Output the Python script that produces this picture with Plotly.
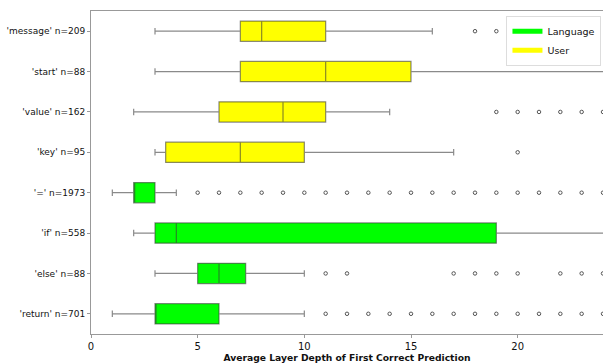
import plotly.graph_objects as go

labels = ["'message' n=209", "'start' n=88", "'value' n=162", "'key' n=95",
          "'=' n=1973", "'if' n=558", "'else' n=88", "'return' n=701"]
groups = ["User", "User", "User", "User", "Language", "Language", "Language", "Language"]
lower = [3, 3, 2, 3, 1, 2, 3, 1]
q1 = [7, 7, 6, 3.5, 2, 3, 5, 3]
median = [8, 11, 9, 7, 2, 4, 6, 3]
q3 = [11, 15, 11, 10, 3, 19, 7.25, 6]
upper = [16, 25, 14, 17, 4, 25, 10, 10]
outliers = [
    [18, 19, 23],
    [],
    [19, 20, 21, 22, 23, 24],
    [20],
    [5, 6, 7, 8, 9, 10, 11, 12, 13, 14, 15, 16, 17, 18, 19, 20, 21, 22, 23, 24],
    [],
    [11, 12, 17, 18, 19, 20, 22, 23, 24],
    [11, 12, 13, 14, 15, 16, 17, 18, 19, 20, 21, 22, 23, 24],
]
colors = {"Language": "#00ff00", "User": "#ffff00"}

fig = go.Figure()
for i, lab in enumerate(labels):
    grp = groups[i]
    fig.add_trace(go.Box(
        y=[lab], q1=[q1[i]], median=[median[i]], q3=[q3[i]],
        lowerfence=[lower[i]], upperfence=[upper[i]],
        orientation="h", name=grp, showlegend=False,
        fillcolor=colors[grp],
        line=dict(color="rgba(60,60,60,0.6)", width=1.2),
        width=0.5, whiskerwidth=0.32, boxpoints=False,
        hoverinfo="skip",
    ))

ox, oy = [], []
for i, lab in enumerate(labels):
    for v in outliers[i]:
        ox.append(v)
        oy.append(lab)
fig.add_trace(go.Scatter(
    x=ox, y=oy, mode="markers", showlegend=False,
    marker=dict(symbol="circle-open", size=3.5, color="#555",
                line=dict(width=1, color="#555")),
    hoverinfo="skip",
))

# legend entries
for grp in ["Language", "User"]:
    fig.add_trace(go.Scatter(
        x=[None], y=[None], mode="lines", name=grp,
        line=dict(color=colors[grp], width=7), showlegend=True,
    ))

fig.update_layout(
    width=603, height=364,
    margin=dict(l=91, r=0, t=11, b=30, autoexpand=False),
    paper_bgcolor="white", plot_bgcolor="white",
    boxmode="overlay",
    font=dict(family="DejaVu Sans", size=9, color="#111"),
    legend=dict(x=0.997, y=0.985, xanchor="right", yanchor="top",
                bgcolor="white", bordercolor="#ddd", borderwidth=1,
                font=dict(size=9.5), tracegroupgap=0, itemwidth=30,
                itemsizing="constant"),
    xaxis=dict(range=[0, 24], tickvals=[0, 5, 10, 15, 20],
               showgrid=False, zeroline=False, automargin=False,
               showline=True, linecolor="#999", linewidth=1, mirror=True,
               ticks="outside", ticklen=3, tickcolor="#999",
               tickfont=dict(size=10),
               title=dict(text="<b>Average Layer Depth of First Correct Prediction</b>",
                          font=dict(size=9.2), standoff=0)),
    yaxis=dict(categoryorder="array", categoryarray=labels[::-1],
               range=[-0.5, 7.5], automargin=False,
               showgrid=False, zeroline=False,
               showline=True, linecolor="#999", linewidth=1,
               ticks="outside", ticklen=3, tickcolor="#999",
               tickfont=dict(size=9)),
)

fig.write_html("out.html", config={"displayModeBar": False},
               post_script="document.body.style.margin='0';")
